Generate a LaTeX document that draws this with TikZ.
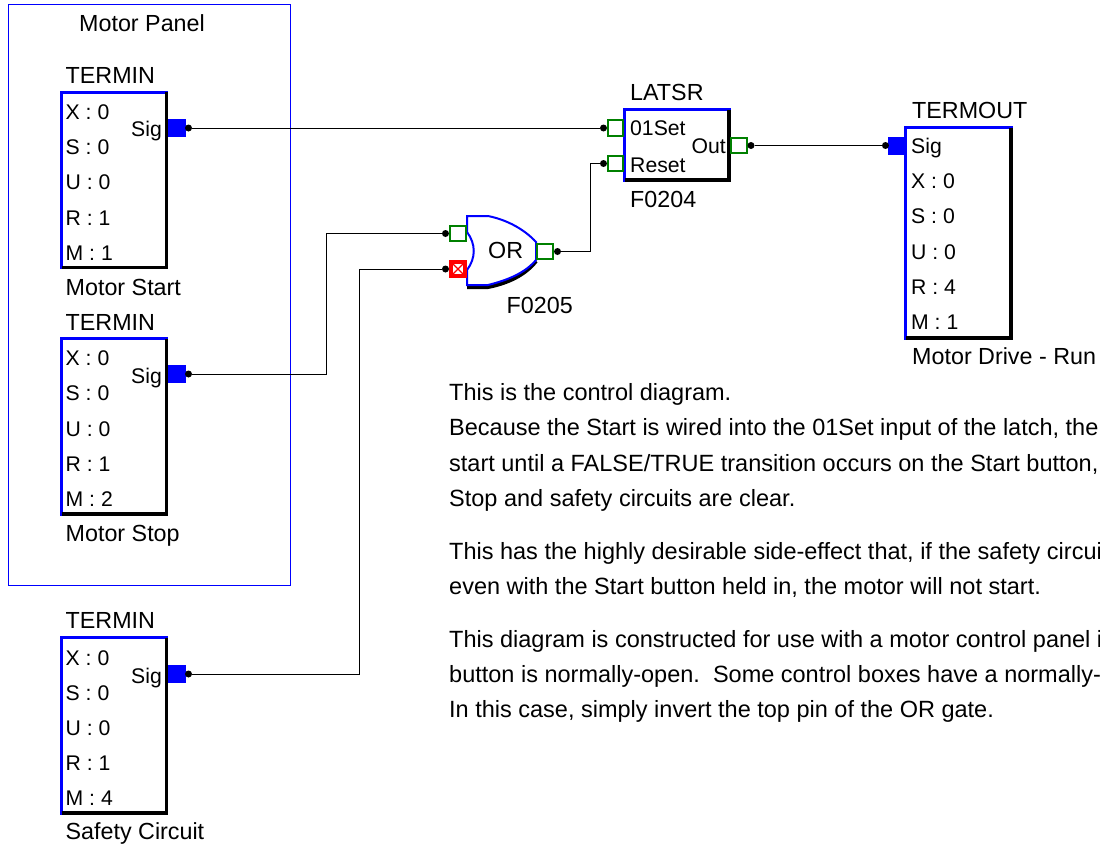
\documentclass[tikz,border=0pt]{standalone}
\usepackage{fontspec}
\setmainfont{Liberation Sans}
\tikzset{
    lbl/.style={anchor=base west, inner sep=0pt, font=\fontsize{23.3}{28}\selectfont},
    rowlbl/.style={lbl, font=\fontsize{21.2}{26}\selectfont},
    rowlblr/.style={rowlbl, anchor=base east},
    notelbl/.style={lbl, font=\fontsize{23.5}{28}\selectfont},
    block/.style={draw=blue, line width=3pt, fill=white, inner sep=0pt, outer sep=0pt, anchor=north west},
    blockshade/.style={line width=3.4pt, black, shift={(1.5,1.5)}},
    sigport/.style={fill=blue, inner sep=0pt, outer sep=0pt, minimum width=18pt, minimum height=18pt},
    port/.style={draw=green!50!black, line width=2.4pt, fill=white, inner sep=0pt, outer sep=0pt, minimum width=15.5pt, minimum height=15.5pt},
    badport/.style={port, draw=red, line width=4pt, minimum width=14pt, minimum height=14pt},
    pinend/.style={circle, fill=black, inner sep=0pt, outer sep=0pt, minimum size=7pt},
    wire/.style={line width=0.8pt, black},
}
\begin{document}
\begin{tikzpicture}[x=1pt, y=-1pt]
    \useasboundingbox (0,0) rectangle (1100,846);

    % panel
    \draw[blue, line width=0.9pt] (8.5,4.5) rectangle (290,585);
    \node[lbl] (paneltitle) at (79,31) {Motor Panel};

    % motor start
    \node[lbl] (starttitle) at (65.5,83) {TERMIN};
    \node[block, minimum width=105pt, minimum height=175.5pt] (startbox) at (61.5,92) {};
    \draw[blockshade] (startbox.north east) -- (startbox.south east) -- (startbox.south west);
    \node[rowlbl] (startx) at (65.5,119) {X : 0};
    \node[rowlbl] (starts) at (65.5,154) {S : 0};
    \node[rowlbl] (startu) at (65.5,189) {U : 0};
    \node[rowlbl] (startr) at (65.5,225) {R : 1};
    \node[rowlbl] (startm) at (65.5,260) {M : 1};
    \node[rowlblr] (startsig) at (162,136) {Sig};
    \node[sigport] (startport) at (176.5,128) {};
    \node[pinend] (startpin) at (188.5,128) {};
    \node[lbl] (startname) at (65.5,295) {Motor Start};

    % motor stop
    \node[lbl] (stoptitle) at (65.5,330) {TERMIN};
    \node[block, minimum width=105pt, minimum height=175.5pt] (stopbox) at (61.5,338.5) {};
    \draw[blockshade] (stopbox.north east) -- (stopbox.south east) -- (stopbox.south west);
    \node[rowlbl] (stopx) at (65.5,365) {X : 0};
    \node[rowlbl] (stops) at (65.5,400) {S : 0};
    \node[rowlbl] (stopu) at (65.5,436) {U : 0};
    \node[rowlbl] (stopr) at (65.5,471) {R : 1};
    \node[rowlbl] (stopm) at (65.5,506) {M : 2};
    \node[rowlblr] (stopsig) at (162,383) {Sig};
    \node[sigport] (stopport) at (176.5,374) {};
    \node[pinend] (stoppin) at (188.5,374) {};
    \node[lbl] (stopname) at (65.5,541) {Motor Stop};

    % safety circuit
    \node[lbl] (safetytitle) at (65.5,628) {TERMIN};
    \node[block, minimum width=105pt, minimum height=175.5pt] (safetybox) at (61.5,637.5) {};
    \draw[blockshade] (safetybox.north east) -- (safetybox.south east) -- (safetybox.south west);
    \node[rowlbl] (safetyx) at (65.5,665) {X : 0};
    \node[rowlbl] (safetys) at (65.5,700) {S : 0};
    \node[rowlbl] (safetyu) at (65.5,735) {U : 0};
    \node[rowlbl] (safetyr) at (65.5,770) {R : 1};
    \node[rowlbl] (safetym) at (65.5,805) {M : 4};
    \node[rowlblr] (safetysig) at (162,683) {Sig};
    \node[sigport] (safetyport) at (176.5,674) {};
    \node[pinend] (safetypin) at (188.5,674) {};
    \node[lbl] (safetyname) at (65.5,839) {Safety Circuit};

    % or gate
    \draw[black, line width=4pt] (467,287) -- (488,287) .. controls (508,283) and (525,275) .. (536,261);
    \draw[blue, line width=2pt, fill=white] (467,216) -- (488,216) .. controls (508,220) and (525,230) .. (536,242)
        -- (536,260) .. controls (525,273) and (508,280) .. (488,285) -- (467,285) -- (467,270)
        .. controls (476,258) and (476,244) .. (467,232) -- cycle;
    \node[lbl] (ortext) at (488,258) {OR};
    \node[port] (orin) at (458,233.5) {};
    \node[badport] (orbad) at (458,269) {};
    \draw[red, line width=1.2pt] (orbad.north west) -- (orbad.south east);
    \draw[red, line width=1.2pt] (orbad.south west) -- (orbad.north east);
    \node[pinend] (orinpin) at (445.5,233.5) {};
    \node[pinend] (orbadpin) at (445.5,269) {};
    \node[port] (orout) at (545,251.5) {};
    \node[pinend] (oroutpin) at (557.5,251.5) {};
    \node[lbl] (orname) at (506.5,313) {F0205};

    % latch
    \node[lbl] (latchtitle) at (630,100) {LATSR};
    \node[block, minimum width=104.5pt, minimum height=70.5pt] (latchbox) at (624.5,109.5) {};
    \draw[blockshade] (latchbox.north east) -- (latchbox.south east) -- (latchbox.south west);
    \node[rowlbl] (latchset) at (630,135) {01Set};
    \node[rowlbl] (latchreset) at (630,172) {Reset};
    \node[rowlblr] (latchoutl) at (726,153) {Out};
    \node[port] (latchsetport) at (615.5,128) {};
    \node[port] (latchresetport) at (615.5,163.5) {};
    \node[pinend] (latchsetpin) at (603.5,128) {};
    \node[pinend] (latchresetpin) at (603.5,163.5) {};
    \node[port] (latchout) at (739,145.5) {};
    \node[pinend] (latchoutpin) at (751,145.5) {};
    \node[lbl] (latchname) at (630,207) {F0204};

    % output
    \node[lbl] (outtitle) at (912,118) {TERMOUT};
    \node[block, minimum width=105.5pt, minimum height=210.5pt] (outbox) at (905.5,127.5) {};
    \draw[blockshade] (outbox.north east) -- (outbox.south east) -- (outbox.south west);
    \node[rowlbl] (outsig) at (911,153) {Sig};
    \node[rowlbl] (outx) at (911,188) {X : 0};
    \node[rowlbl] (outs) at (911,223) {S : 0};
    \node[rowlbl] (outu) at (911,259) {U : 0};
    \node[rowlbl] (outr) at (911,294) {R : 4};
    \node[rowlbl] (outm) at (911,329) {M : 1};
    \node[sigport] (outport) at (896.5,145.5) {};
    \node[pinend] (outpin) at (885.5,145.5) {};
    \node[lbl] (outname) at (912,364) {Motor Drive - Run};

    % wires
    \draw[wire] (startpin) -- (latchsetpin);
    \draw[wire] (stoppin) -| (326,233.5) -- (orinpin);
    \draw[wire] (safetypin) -| (359,269) -- (orbadpin);
    \draw[wire] (oroutpin) -| (590,163.5) -- (latchresetpin);
    \draw[wire] (latchoutpin) -- (outpin);

    % notes
    \node[notelbl] (note1) at (449,400) {This is the control diagram.};
    \node[notelbl] (note2) at (449,435) {Because the Start is wired into the 01Set input of the latch, the};
    \node[notelbl] (note3) at (449,471) {start until a FALSE/TRUE transition occurs on the Start button,};
    \node[notelbl] (note4) at (449,506) {Stop and safety circuits are clear.};
    \node[notelbl] (note5) at (449,559) {This has the highly desirable side-effect that, if the safety circui};
    \node[notelbl] (note6) at (449,594) {even with the Start button held in, the motor will not start.};
    \node[notelbl] (note7) at (449,647) {This diagram is constructed for use with a motor control panel i};
    \node[notelbl] (note8) at (449,682) {button is normally-open.\ \ Some control boxes have a normally-};
    \node[notelbl] (note9) at (449,717) {In this case, simply invert the top pin of the OR gate.};
\end{tikzpicture}
\end{document}
